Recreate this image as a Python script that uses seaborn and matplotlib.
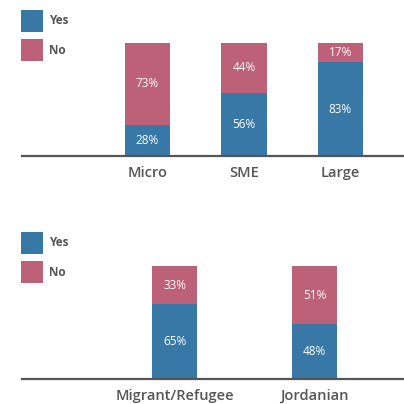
import matplotlib
matplotlib.use("Agg")
import matplotlib.pyplot as plt
import seaborn as sns
import pandas as pd
from matplotlib.patches import Rectangle

sns.set_style("white")
plt.rcParams['font.family'] = ['Open Sans', 'DejaVu Sans']

size_cats = ["Micro", "SME", "Large"]
size_yes = [28, 56, 83]
size_no = [73, 44, 17]

origin_cats = ["Migrant/Refugee", "Jordanian"]
origin_yes = [65, 48]
origin_no = [33, 51]

legend_labels = ["Yes", "No"]

BLUE = "#3878A6"
PINK = "#BD6179"
GRAY = "#555555"

W = H = 404
fig = plt.figure(figsize=(W / 100, H / 100), dpi=100)


def px_axes(x0, y0, x1, y1):
    return fig.add_axes([x0 / W, 1 - y1 / H, (x1 - x0) / W, (y1 - y0) / H])


def draw_panel(ax, cats, yes, no, width, xlim):
    tot = [y + n for y, n in zip(yes, no)]
    df = pd.DataFrame({
        "cat": cats,
        "total": [100.0] * len(cats),
        "yes": [y / t * 100 for y, t in zip(yes, tot)],
    })
    sns.barplot(data=df, x="cat", y="total", color=PINK, width=width,
                saturation=1, ax=ax, order=cats, linewidth=0)
    sns.barplot(data=df, x="cat", y="yes", color=BLUE, width=width,
                saturation=1, ax=ax, order=cats, linewidth=0)
    for i, (yv, nv, ys) in enumerate(zip(yes, no, df["yes"])):
        ax.text(i, ys / 2, f"{yv}%", ha="center", va="center",
                color="white", fontsize=8.5)
        ax.text(i, ys + (100 - ys) / 2, f"{nv}%", ha="center", va="center",
                color="white", fontsize=8.5)
    ax.set_xlim(*xlim)
    ax.set_ylim(0, 100)
    ax.set_xlabel("")
    ax.set_ylabel("")
    ax.set_yticks([])
    for s in ["top", "right", "left"]:
        ax.spines[s].set_visible(False)
    ax.spines["bottom"].set_color(GRAY)
    ax.spines["bottom"].set_linewidth(1.6)
    ax.tick_params(axis="x", length=0, pad=7, labelsize=10.5, labelcolor=GRAY)
    for t in ax.get_xticklabels():
        t.set_fontweight("semibold")
    ax.patch.set_alpha(0)


def draw_legend(y_top):
    for k, (lab, col) in enumerate(zip(legend_labels, [BLUE, PINK])):
        y0 = y_top + k * 29
        fig.patches.append(Rectangle((21 / W, 1 - (y0 + 22) / H), 22 / W, 22 / H,
                                     transform=fig.transFigure, color=col, lw=0))
        fig.text(49 / W, 1 - (y0 + 11) / H, lab, ha="left", va="center",
                 fontsize=8.5, fontweight="bold", color=GRAY)


ax1 = px_axes(22, 43, 404, 156)
draw_panel(ax1, size_cats, size_yes, size_no, 0.47, (-1.3, 2.66))
ax2 = px_axes(22, 266, 404, 379)
draw_panel(ax2, origin_cats, origin_yes, origin_no, 0.32, (-1.09, 1.64))

draw_legend(10)
draw_legend(232)

fig.savefig("out.png", dpi=100)
